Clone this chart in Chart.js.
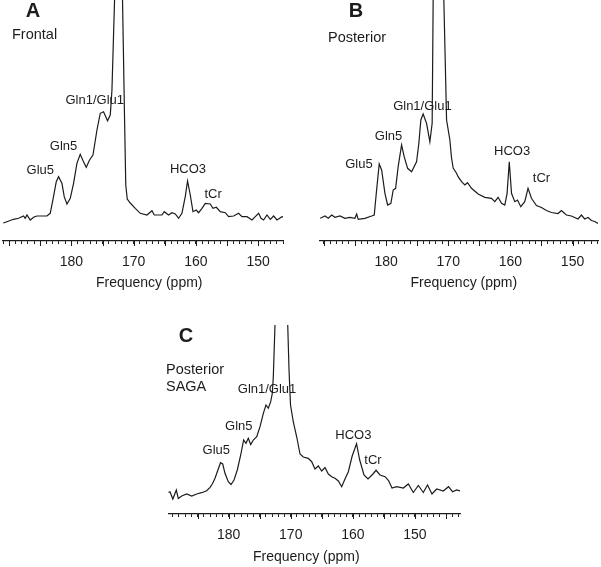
<!DOCTYPE html>
<html><head><meta charset="utf-8">
<script src="https://cdn.jsdelivr.net/npm/chart.js@4/dist/chart.umd.min.js"></script>
<style>
html,body{margin:0;padding:0;background:#fff;}
#wrap{position:relative;width:601px;height:567px;overflow:hidden;background:#fff;}
#wrap canvas{position:absolute;}
</style></head><body>
<div id="wrap">
<canvas id="cA" width="300" height="300" style="left:0px;top:0px"></canvas>
<canvas id="cB" width="301" height="300" style="left:300px;top:0px"></canvas>
<canvas id="cC" width="320" height="267" style="left:150px;top:300px"></canvas>
</div>
<script>
// ---- data (chemical shift in ppm, signal intensity in arbitrary units) ----
const ppmA = [190.96,190.37,189.31,188.50,187.70,187.43,187.15,186.62,186.09,185.55,183.94,183.41,182.88,182.44,182.07,181.53,181.16,180.72,180.19,179.66,179.12,178.59,178.06,177.62,177.09,176.54,175.90,175.37,174.84,174.20,173.76,173.49,173.07,172.43,171.79,171.46,171.27,171.03,170.55,169.74,168.94,167.86,167.06,166.69,165.45,165.08,164.39,163.84,163.31,162.78,162.24,161.71,161.34,160.90,160.47,159.94,159.57,159.02,158.49,157.69,157.25,156.72,156.08,155.27,154.74,153.94,153.14,152.59,151.79,150.98,150.45,149.92,149.53,149.12,148.57,148.04,147.51,146.96,146.16,145.95];
const intensityA = [18,19.3,21.7,22.7,25,22.7,26,21,23.7,25,25,27.7,44.3,59.3,64.3,57.7,44.3,37,42.7,57.7,77.7,86.7,79.3,73.7,81,86,111,127.7,129.3,120.3,126,151,241,421,241,121,56,42,38,32.7,27.7,26,30.3,26,26,29.3,26,28.3,27,22.7,27.7,44.3,60,46,29.3,31,28.3,32.7,37.7,37,32.7,33.7,29.3,28.3,24.3,25,27.7,24.3,24.3,21,24.3,27.7,22.7,21,26,21.7,25,21,24.3,24];

const ppmB = [190.64,189.84,189.31,188.76,188.23,187.43,186.62,185.82,185.02,184.74,184.49,183.41,182.33,181.91,181.53,181.11,180.72,180.19,179.76,179.23,178.86,178.47,178.06,177.51,177.09,176.54,175.90,175.10,174.73,174.41,174.04,173.49,172.96,172.59,172.43,171.56,170.71,170.27,169.74,169.47,169.21,168.67,168.41,167.86,167.33,166.90,166.26,165.19,164.12,163.04,162.51,161.98,161.43,160.90,160.53,160.18,159.82,159.29,158.86,158.33,157.69,157.16,156.61,155.81,155.00,154.20,153.39,152.33,151.79,150.98,150.18,149.12,148.57,148.04,147.51,146.96,146.43,145.90];
const intensityB = [22.7,25,22.7,26,23.7,25,22.7,23.7,22.7,27,21.7,22.7,25,26,51,77,71,47.7,36,37.7,51,52.7,74.3,96,84.3,72.7,69.3,79.3,97.7,121,127,117.7,99.3,117.7,241,421,241,121,101,83,73,67.7,64.3,59.3,56,58.3,52.7,47,43.7,42.7,39.3,43.7,37.7,36,47.7,79.3,47.7,39.3,41,34.3,39.3,52.7,42.7,35.5,33.5,30.5,28.5,27.5,30.5,26,25,22,26,22,23.5,20.5,19.5,17.5];

const ppmC = [189.72,189.45,188.99,188.43,188.11,187.56,186.76,185.95,185.15,184.34,183.54,183.00,182.57,182.20,181.83,181.31,180.96,180.59,180.06,179.62,179.14,178.61,178.06,177.59,177.21,176.84,176.45,176.03,175.48,174.95,174.42,173.99,173.62,173.23,172.97,172.81,172.54,171.52,170.49,170.28,170.04,169.59,169.04,168.51,167.98,167.18,166.63,166.10,165.56,165.02,164.49,163.95,163.41,162.88,162.34,161.80,161.27,160.73,160.11,159.41,158.90,158.21,157.56,156.76,156.27,155.63,154.82,154.26,153.70,152.94,151.88,151.07,150.27,149.46,148.66,147.98,147.26,146.50,145.44,144.60,143.95,143.28,142.75];
const intensityC = [21.5,22.3,15,24,15.5,18,20,18,20,21.3,23.3,26.7,30.7,35.7,42.3,51.3,50,40.7,32.3,29.5,34,44,59,74,70.7,75.7,69.5,74,77.3,87.3,100.7,109,105.7,112.3,120.7,137.3,189,364,189,144,109,92,77,60,57,55.7,52.3,45,48,43,46.5,40,37.3,35.7,33,27.3,35,42.3,58,70.3,54,39,35,40,43.7,39,37.3,33.5,26,27.3,26,30,21.5,28.5,21.5,29,20,25,23,27.3,22.3,24,23];

const tickLabels = [180, 170, 160, 150];
const peakNames = ['Glu5', 'Gln5', 'Gln1/Glu1', 'HCO3', 'tCr'];
const peakPpmA = [185.0, 181.27, 176.25, 161.27, 157.23];
const peakIntA = [71, 94.3, 140.5, 72, 46.7];
const peakPpmB = [184.37, 179.6, 174.16, 159.73, 155.0];
const peakIntB = [76.3, 104.3, 134.3, 89.3, 62.7];
const peakPpmC = [181.99, 178.37, 173.82, 159.93, 156.76];
const peakIntC = [64, 87.3, 124.3, 79, 54];
const axisTitle = 'Frequency (ppm)';
const axisTitlePpm = 167.5;

const FONT = '"Liberation Sans", Arial, Helvetica, sans-serif';
const INK = '#1c1c1c';

function makePlugin(cfg) {
  return {
    id: 'annot' + cfg.key,
    afterDraw(chart) {
      const ctx = chart.ctx, xs = chart.scales.x, ys = chart.scales.y;
      const b = chart.chartArea.bottom;
      ctx.save();
      // longer ticks every 5 ppm
      ctx.strokeStyle = INK; ctx.lineWidth = 1;
      for (let v = Math.ceil(xs.min); v <= xs.max; v++) {
        if (v % 5 === 0) {
          const px = Math.round(xs.getPixelForValue(v)) + 0.5;
          ctx.beginPath(); ctx.moveTo(px, b); ctx.lineTo(px, b + 5); ctx.stroke();
        }
      }
      ctx.fillStyle = INK;
      ctx.textAlign = 'center'; ctx.textBaseline = 'middle';
      // peak labels
      ctx.font = '13px ' + FONT;
      peakNames.forEach((n, i) => {
        ctx.fillText(n, xs.getPixelForValue(cfg.ppm[i]), ys.getPixelForValue(cfg.inten[i]));
      });
      // axis title
      ctx.font = '14px ' + FONT;
      ctx.fillText(axisTitle, xs.getPixelForValue(axisTitlePpm), cfg.titleY);
      // panel letter
      ctx.font = 'bold 20px ' + FONT;
      ctx.fillText(cfg.letter, cfg.letterX, cfg.letterY);
      // panel names
      ctx.textAlign = 'left';
      ctx.font = '14.5px ' + FONT;
      cfg.names.forEach((n, i) => ctx.fillText(n, cfg.nameX, cfg.nameY[i]));
      ctx.restore();
    }
  };
}

function makeChart(id, ppm, inten, xmin, xmax, ymax, pad, labelLH, cfg) {
  const data = ppm.map((p, i) => ({ x: p, y: inten[i] }));
  return new Chart(document.getElementById(id), {
    type: 'line',
    data: { datasets: [{ data, borderColor: INK, borderWidth: 1.2, pointRadius: 0, pointHoverRadius: 0, fill: false, tension: 0 }] },
    options: {
      responsive: false, animation: false, events: [],
      layout: { padding: pad, autoPadding: false },
      plugins: { legend: { display: false }, tooltip: { enabled: false } },
      scales: {
        x: {
          type: 'linear', reverse: true, min: xmin, max: xmax,
          border: { display: true, color: INK, width: 1.2 },
          grid: { display: true, drawOnChartArea: false, drawTicks: true, tickLength: 3, tickColor: INK, tickWidth: 1 },
          ticks: {
            stepSize: 1, autoSkip: false, maxTicksLimit: 1000, includeBounds: false,
            padding: 0, color: INK, maxRotation: 0, minRotation: 0,
            font: { family: FONT, size: 14, lineHeight: labelLH / 14 },
            callback: (v) => { const r = Math.round(v); return (Math.abs(v - r) < 1e-6 && tickLabels.includes(r)) ? String(r) : ''; }
          },
          title: { display: false }
        },
        y: { type: 'linear', display: false, min: 0, max: ymax }
      }
    },
    plugins: [makePlugin(cfg)]
  });
}

makeChart('cA', ppmA, intensityA, 146, 191, 241, { left: 3, right: 17, top: 0, bottom: 20.6 }, 35.4,
  { key: 'A', ppm: peakPpmA, inten: peakIntA, titleY: 283, letter: 'A', letterX: 33, letterY: 11, names: ['Frontal'], nameX: 12, nameY: [35] });
makeChart('cB', ppmB, intensityB, 145.9, 190.64, 241, { left: 20, right: 3, top: 0, bottom: 20.6 }, 35.4,
  { key: 'B', ppm: peakPpmB, inten: peakIntB, titleY: 283, letter: 'B', letterX: 56, letterY: 11, names: ['Posterior'], nameX: 28, nameY: [38] });
makeChart('cC', ppmC, intensityC, 142.75, 189.72, 189, { left: 18.3, right: 10, top: 25, bottom: 14 }, 36,
  { key: 'C', ppm: peakPpmC, inten: peakIntC, titleY: 256.7, letter: 'C', letterX: 36, letterY: 36, names: ['Posterior', 'SAGA'], nameX: 16, nameY: [70, 87] });
</script>
</body></html>
